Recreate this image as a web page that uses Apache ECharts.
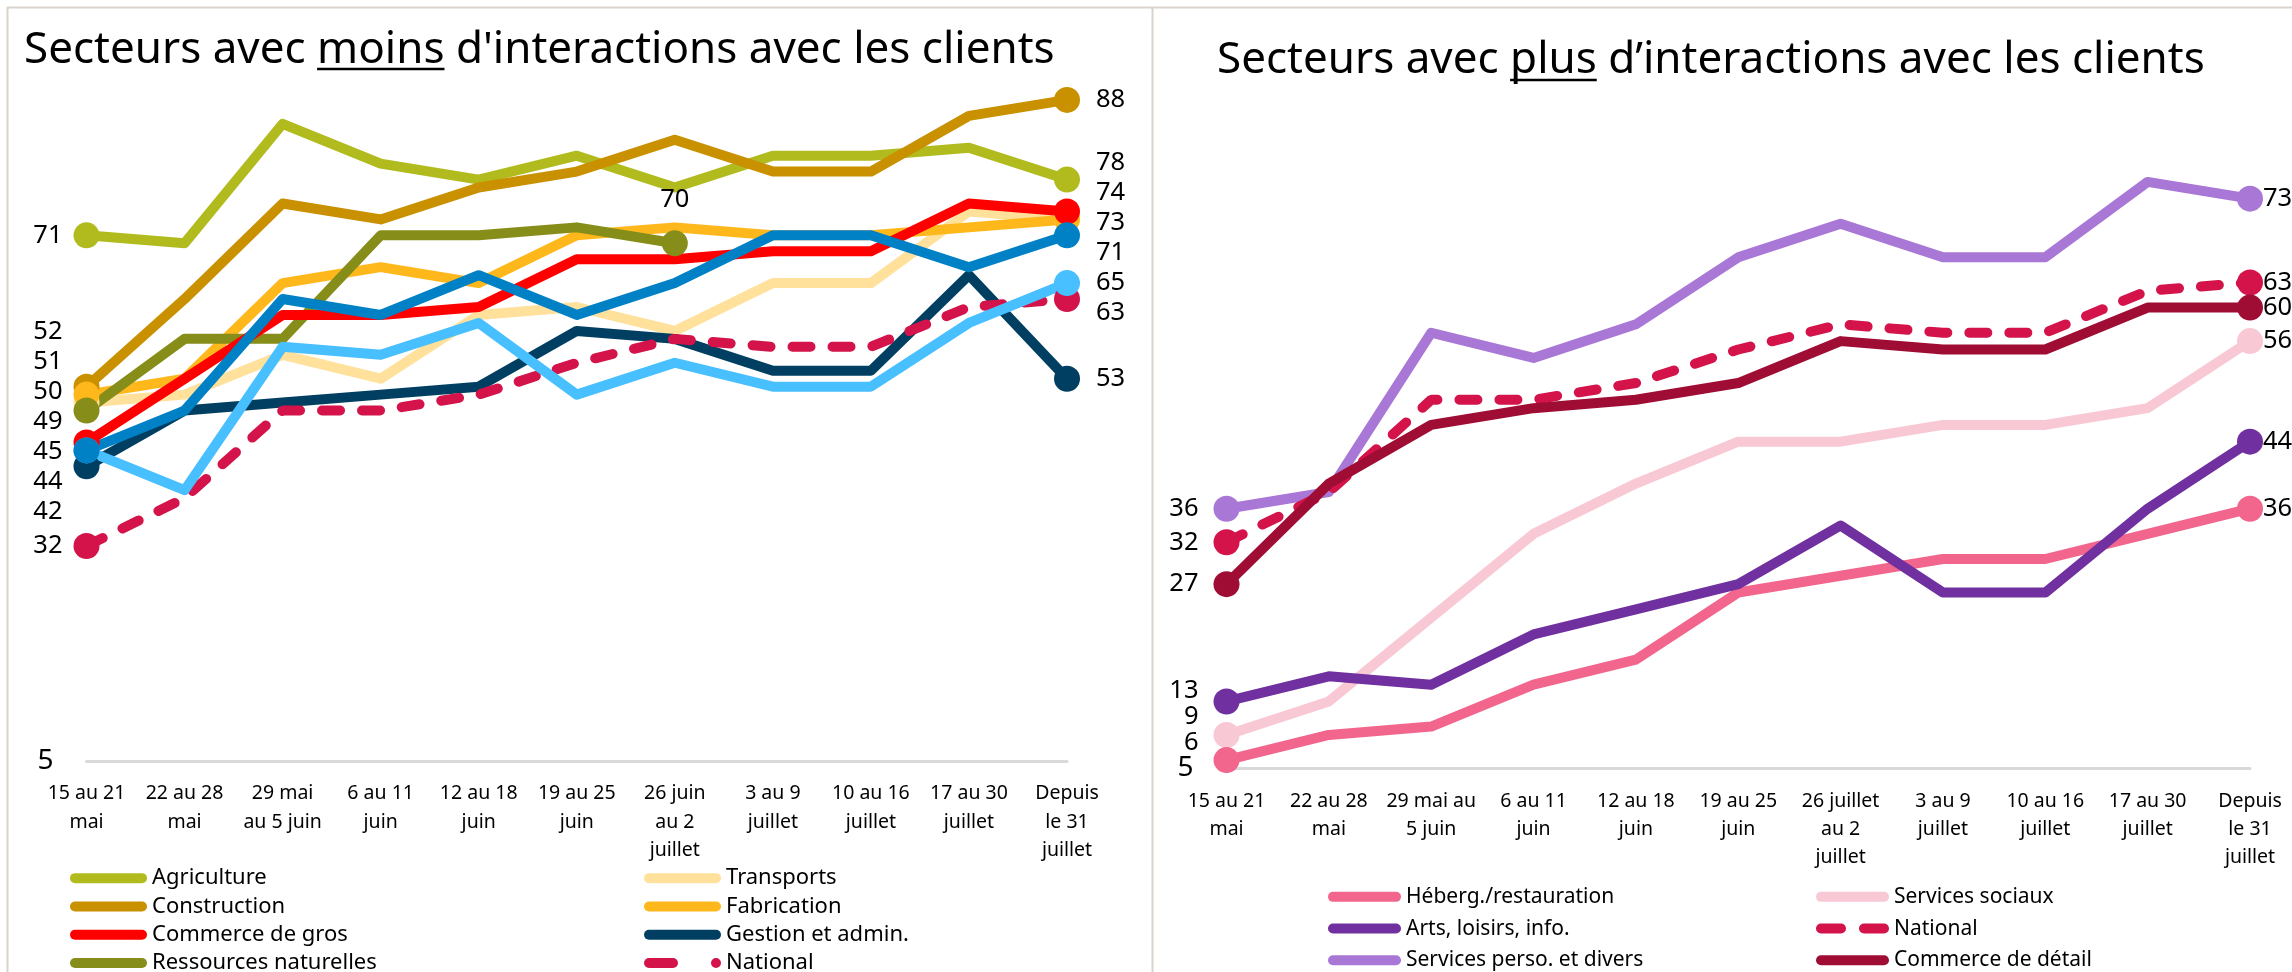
<!DOCTYPE html>
<html>
<head>
<meta charset="utf-8">
<title>Secteurs et interactions avec les clients</title>
<script src="https://cdn.jsdelivr.net/npm/echarts@6.0.0/dist/echarts.min.js"></script>
<style>
  html, body { margin: 0; padding: 0; background: #fff; }
  #main { width: 2292px; height: 972px; }
</style>
</head>
<body>
<div id="main"></div>
<script>
const FONT = 'Noto Sans';

// categories (tick labels)
const categoriesMoins = ['15 au 21\nmai', '22 au 28\nmai', '29 mai\nau 5 juin', '6 au 11\njuin', '12 au 18\njuin',
  '19 au 25\njuin', '26 juin\nau 2\njuillet', '3 au 9\njuillet', '10 au 16\njuillet', '17 au 30\njuillet', 'Depuis\nle 31\njuillet'];
const categoriesPlus = ['15 au 21\nmai', '22 au 28\nmai', '29 mai au\n5 juin', '6 au 11\njuin', '12 au 18\njuin',
  '19 au 25\njuin', '26 juillet\nau 2\njuillet', '3 au 9\njuillet', '10 au 16\njuillet', '17 au 30\njuillet', 'Depuis\nle 31\njuillet'];

// secteurs avec moins d'interactions
const agriculture = [71, 70, 85, 80, 78, 81, 77, 81, 81, 82, 78];
const construction = [52, 63, 75, 73, 77, 79, 83, 79, 79, 86, 88];
const transports = [50, 51, 56, 53, 61, 62, 59, 65, 65, 74, 73];
const fabrication = [51, 53, 65, 67, 65, 71, 72, 71, 71, 72, 73];
const ressourcesNat = [49, 58, 58, 71, 71, 72, 70, null, null, null, null];
const gestionAdmin = [42, 49, 50, 51, 52, 59, 58, 54, 54, 66, 53];
const commerceGros = [45, 53, 61, 61, 62, 68, 68, 69, 69, 75, 74];
const financeImmo = [44, 39, 57, 56, 60, 51, 55, 52, 52, 60, 65];
const servicesPro = [44, 49, 63, 61, 66, 61, 65, 71, 71, 67, 71];
const national = [32, 38, 49, 49, 51, 55, 58, 57, 57, 62, 63];

// secteurs avec plus d'interactions
const servicesSociaux = [9, 13, 23, 33, 39, 44, 44, 46, 46, 48, 56];
const hebergRestauration = [6, 9, 10, 15, 18, 26, 28, 30, 30, 33, 36];
const artsLoisirs = [13, 16, 15, 21, 24, 27, 34, 26, 26, 36, 44];
const servicesPerso = [36, 38, 57, 54, 58, 66, 70, 66, 66, 75, 73];
const commerceDetail = [27, 39, 46, 48, 49, 51, 56, 55, 55, 60, 60];

const seriesMoins = [
  { name: 'Agriculture', data: agriculture, color: '#b2bb1e' },
  { name: 'Construction', data: construction, color: '#c99000' },
  { name: 'Transports', data: transports, color: '#ffe19c', noEndLabel: true },
  { name: 'Fabrication', data: fabrication, color: '#ffb81c' },
  { name: 'Ressources naturelles', data: ressourcesNat, color: '#878d19' },
  { name: 'Gestion et admin.', data: gestionAdmin, color: '#003f62' },
  { name: 'Commerce de gros', data: commerceGros, color: '#ff0000' },
  { name: 'National', data: national, color: '#d3134a', dashed: true },
  { name: 'Finance et immobilier', data: financeImmo, color: '#48bfff', noStartLabel: true },
  { name: 'Services professionnels', data: servicesPro, color: '#0080c5' }
];
const seriesPlus = [
  { name: 'Services sociaux', data: servicesSociaux, color: '#f9c8d5' },
  { name: 'Héberg./restauration', data: hebergRestauration, color: '#f2658d' },
  { name: 'Arts, loisirs, info.', data: artsLoisirs, color: '#7030a0' },
  { name: 'Services perso. et divers', data: servicesPerso, color: '#a977d5' },
  { name: 'National', data: national, color: '#d3134a', dashed: true },
  { name: 'Commerce de détail', data: commerceDetail, color: '#a00d34' }
];

const chart = echarts.init(document.getElementById('main'));

const LABEL_STYLE = { fontFamily: FONT, fontSize: 25.5, color: '#000' };
const sideCfg = {
  '0|start': { position: 'left', distance: 11 },
  '0|end': { position: 'right', distance: 16 },
  '1|start': { position: 'left', distance: 15 },
  '1|end': { position: 'right', distance: 0 }
};

function lastIndex(arr) {
  for (let i = arr.length - 1; i >= 0; i--) if (arr[i] != null) return i;
  return -1;
}

function buildSeries(defs, grid, offsets) {
  return defs.map(def => {
    const last = lastIndex(def.data);
    const n = def.data.length;
    const data = def.data.map((v, i) => {
      if (v == null) return null;
      if (i !== 0 && i !== last) return v;
      const item = { value: v, symbolSize: 26 };
      const side = i === 0 ? 'start' : 'end';
      const hide = (side === 'start' && def.noStartLabel) || (side === 'end' && def.noEndLabel);
      if (!hide) {
        if (side === 'end' && last !== n - 1) {
          item.label = Object.assign({ show: true, position: 'top', distance: 18 }, LABEL_STYLE);
        } else {
          const key = grid + '|' + def.name + '|' + side;
          item.label = Object.assign({ show: true, offset: [0, offsets[key] || 0] }, sideCfg[grid + '|' + side], LABEL_STYLE);
        }
      }
      return item;
    });
    return {
      type: 'line',
      name: def.name,
      xAxisIndex: grid,
      yAxisIndex: grid,
      data: data,
      symbol: 'circle',
      symbolSize: 0,
      showAllSymbol: true,
      silent: true,
      itemStyle: { color: def.color, borderWidth: 0 },
      lineStyle: def.dashed
        ? { color: def.color, width: 10, type: [18, 22], cap: 'round' }
        : { color: def.color, width: 10, join: 'round' },
      emphasis: { disabled: true },
      label: { show: false }
    };
  });
}

// spread labels vertically so they don't overlap (heavy items stay put)
function spread(items, gap) {
  items.sort((a, b) => a.y - b.y);
  const groups = items.map(it => ({ members: [it], top: it.y }));
  const place = g => {
    let s = 0, ws = 0;
    g.members.forEach((m, i) => { s += m.w * (m.y - i * gap); ws += m.w; });
    g.top = s / ws;
  };
  let merged = true;
  while (merged) {
    merged = false;
    for (let i = 0; i < groups.length - 1; i++) {
      const a = groups[i], b = groups[i + 1];
      if (a.top + a.members.length * gap > b.top) {
        a.members = a.members.concat(b.members);
        place(a);
        groups.splice(i + 1, 1);
        merged = true;
        break;
      }
    }
  }
  groups.forEach(g => g.members.forEach((m, i) => { m.pos = g.top + i * gap; }));
}

function computeOffsets() {
  const offsets = {};
  const groups = [
    { grid: 0, defs: seriesMoins, side: 'start', gap: 30 },
    { grid: 0, defs: seriesMoins, side: 'end', gap: 30 },
    { grid: 1, defs: seriesPlus, side: 'start', gap: 26, fixedValue: 5 },
    { grid: 1, defs: seriesPlus, side: 'end', gap: 25 }
  ];
  groups.forEach(g => {
    const items = [];
    g.defs.forEach(def => {
      const last = lastIndex(def.data);
      let idx;
      if (g.side === 'start') {
        if (def.noStartLabel) return;
        idx = 0;
      } else {
        if (def.noEndLabel || last !== def.data.length - 1) return;
        idx = last;
      }
      const y = chart.convertToPixel({ gridIndex: g.grid }, [idx, def.data[idx]])[1];
      items.push({ key: g.grid + '|' + def.name + '|' + g.side, y: y, w: 1 });
    });
    if (g.fixedValue != null) {
      items.push({ key: null, y: chart.convertToPixel({ gridIndex: g.grid }, [0, g.fixedValue])[1], w: 1000 });
    }
    spread(items, g.gap);
    items.forEach(it => { if (it.key) offsets[it.key] = it.pos - it.y; });
  });
  return offsets;
}

// legend icons
const pillL = 'path://M5 0H72A5 5 0 0 1 72 10H5A5 5 0 0 1 5 0Z';
const dashDotL = 'path://M5 0H29A5 5 0 0 1 29 10H5A5 5 0 0 1 5 0ZM67 5A5 5 0 1 1 77 5A5 5 0 1 1 67 5Z';
const pillR = 'path://M5 0H68A5 5 0 0 1 68 10H5A5 5 0 0 1 5 0Z';
const dashDashR = 'path://M5 0H25A5 5 0 0 1 25 10H5A5 5 0 0 1 5 0ZM48 0H68A5 5 0 0 1 68 10H48A5 5 0 0 1 48 0Z';

function legendCol(left, top, rowH, width, fontSize, names, pill, natIcon) {
  return {
    orient: 'vertical', left: left, top: top, width: 500, height: 200,
    padding: 0, itemGap: 0,
    itemWidth: width, itemHeight: 10, selectedMode: false,
    textStyle: { fontFamily: FONT, fontSize: fontSize, color: '#000', lineHeight: rowH },
    data: names.map(n => ({ name: n, icon: n === 'National' ? natIcon : pill }))
  };
}

// title underline positions
const TITLE_SIZE = 44;
const ctx = document.createElement('canvas').getContext('2d');
ctx.font = TITLE_SIZE + 'px "' + FONT + '"';
const tw = s => ctx.measureText(s).width;
const titleL = { left: 24, top: 24 };
const titleR = { left: 1217, top: 34 };
const ulL = titleL.left + tw('Secteurs avec ');
const ulR = titleR.left + tw('Secteurs avec ');

const BORDER = '#d9d3cc';

function axisX(grid, cats) {
  return {
    gridIndex: grid, type: 'category', boundaryGap: false, data: cats,
    axisLine: { lineStyle: { color: '#d9d9d9', width: 3 } },
    axisTick: { show: false }, splitLine: { show: false },
    axisLabel: { interval: 0, fontFamily: FONT, fontSize: 19.5, lineHeight: 28.3, color: '#000', margin: 18.5 }
  };
}
function axisY(grid, min, max) {
  return {
    gridIndex: grid, type: 'value', min: min, max: max,
    axisLine: { show: false }, axisTick: { show: false }, splitLine: { show: false },
    axisLabel: { showMinLabel: true, formatter: v => (v === min ? String(v) : ''),
      fontFamily: FONT, fontSize: 28, color: '#000', margin: 33 }
  };
}

function buildOption(offsets) {
  return {
    animation: false,
    backgroundColor: '#fff',
    title: [
      { text: "Secteurs avec moins d'interactions avec les clients", left: titleL.left, top: titleL.top, padding: 0,
        textStyle: { fontFamily: FONT, fontSize: TITLE_SIZE, fontWeight: 'normal', color: '#000', lineHeight: 52 } },
      { text: 'Secteurs avec plus d’interactions avec les clients', left: titleR.left, top: titleR.top, padding: 0,
        textStyle: { fontFamily: FONT, fontSize: TITLE_SIZE, fontWeight: 'normal', color: '#000', lineHeight: 52 } }
    ],
    legend: [
      legendCol(70, 864, 28.3, 77, 22, ['Agriculture', 'Construction', 'Commerce de gros', 'Ressources naturelles'], pillL, dashDotL),
      legendCol(644, 864, 28.3, 77, 22, ['Transports', 'Fabrication', 'Gestion et admin.', 'National'], pillL, dashDotL),
      legendCol(1328, 881, 31.7, 73, 21, ['Héberg./restauration', 'Arts, loisirs, info.', 'Services perso. et divers'], pillR, dashDashR),
      legendCol(1816, 881, 31.7, 73, 21, ['Services sociaux', 'National', 'Commerce de détail'], pillR, dashDashR)
    ],
    grid: [
      { left: 86.5, right: 1225, top: 84, bottom: 211, outerBoundsMode: 'none' },
      { left: 1226.5, right: 42, top: 140, bottom: 203.5, outerBoundsMode: 'none' }
    ],
    xAxis: [axisX(0, categoriesMoins), axisX(1, categoriesPlus)],
    yAxis: [axisY(0, 5, 90), axisY(1, 5, 80)],
    graphic: [
      { type: 'line', silent: true, shape: { x1: 7, y1: 7.5, x2: 2292, y2: 7.5 }, style: { stroke: BORDER, lineWidth: 2 } },
      { type: 'line', silent: true, shape: { x1: 7.5, y1: 7, x2: 7.5, y2: 972 }, style: { stroke: BORDER, lineWidth: 2 } },
      { type: 'line', silent: true, shape: { x1: 1152.5, y1: 7, x2: 1152.5, y2: 972 }, style: { stroke: BORDER, lineWidth: 2 } },
      { type: 'line', silent: true, shape: { x1: ulL, y1: 69, x2: ulL + tw('moins'), y2: 69 }, style: { stroke: '#000', lineWidth: 2.5 } },
      { type: 'line', silent: true, shape: { x1: ulR, y1: 80, x2: ulR + tw('plus'), y2: 80 }, style: { stroke: '#000', lineWidth: 2.5 } }
    ],
    series: buildSeries(seriesMoins, 0, offsets).concat(buildSeries(seriesPlus, 1, offsets))
  };
}

chart.setOption(buildOption({}));
chart.setOption(buildOption(computeOffsets()), true);
</script>
</body>
</html>
